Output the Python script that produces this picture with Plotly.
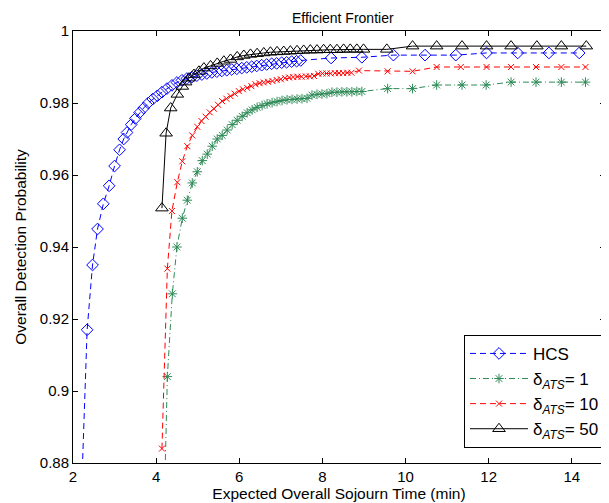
import plotly.graph_objects as go

# HCS
hcs_x = [2.20, 2.34, 2.47, 2.59, 2.73, 2.87, 3.00, 3.12, 3.22, 3.30, 3.40, 3.50, 3.60, 3.70,
         3.81, 3.92, 4.03, 4.14, 4.26, 4.38, 4.50, 4.62, 4.74, 4.86, 4.98, 5.10, 5.22, 5.34,
         5.46, 5.58, 5.70, 5.82, 5.94, 6.06, 6.18, 6.30, 6.42, 6.54, 6.66, 6.78, 6.90, 7.02,
         7.14, 7.26, 7.38, 7.48, 8.21, 8.95, 9.71, 10.47, 11.21, 11.95, 12.70, 13.45, 14.18]
hcs_y = [0.870, 0.917, 0.935, 0.945, 0.952, 0.957, 0.9625, 0.967, 0.970, 0.9718, 0.974, 0.9757,
         0.9773, 0.9786, 0.9800, 0.9811, 0.9820, 0.9830, 0.9840, 0.9849, 0.9857, 0.9863, 0.9868,
         0.9872, 0.9876, 0.9879, 0.9882, 0.9885, 0.9887, 0.9889, 0.9891, 0.9893, 0.9895, 0.9897,
         0.9899, 0.9901, 0.9903, 0.9905, 0.9907, 0.9909, 0.9910, 0.9912, 0.9913, 0.9915, 0.9916,
         0.9918, 0.9925, 0.9927, 0.9933, 0.9933, 0.9933, 0.9939, 0.9939, 0.9939, 0.9939]

# delta_ATS = 1
d1_x = [4.20, 4.27, 4.39, 4.50, 4.63, 4.75, 4.87, 4.99, 5.11, 5.23, 5.35, 5.47, 5.59, 5.71,
        5.83, 5.95, 6.07, 6.19, 6.31, 6.43, 6.55, 6.67, 6.79, 6.91, 7.03, 7.15, 7.27, 7.39,
        7.51, 7.63, 7.75, 7.87, 7.99, 8.11, 8.23, 8.35, 8.47, 8.59, 8.71, 8.83, 8.95,
        9.57, 10.17, 10.75, 11.36, 11.94, 12.54, 13.14, 13.75, 14.33]
d1_y = [0.870, 0.904, 0.927, 0.940, 0.948, 0.953, 0.9578, 0.9609, 0.964, 0.9658, 0.968, 0.970,
        0.971, 0.9725, 0.9740, 0.9752, 0.9763, 0.9773, 0.9781, 0.9788, 0.9793, 0.9798, 0.9801,
        0.9804, 0.9807, 0.9809, 0.9810, 0.9811, 0.9812, 0.9813, 0.9822, 0.9824, 0.9825, 0.9826,
        0.9830, 0.9830, 0.9831, 0.9831, 0.9831, 0.9832, 0.9832,
        0.9840, 0.9840, 0.9850, 0.9850, 0.9850, 0.9858, 0.9858, 0.9858, 0.9858]

# delta_ATS = 10
d10_x = [4.14, 4.27, 4.38, 4.51, 4.63, 4.75, 4.87, 4.99, 5.09, 5.19, 5.29, 5.39, 5.49, 5.59,
         5.69, 5.79, 5.89, 5.99, 6.09, 6.19, 6.29, 6.39, 6.49, 6.59, 6.69, 6.80, 6.90, 7.00,
         7.10, 7.20, 7.30, 7.40, 7.50, 7.60, 7.70, 7.80, 7.90, 8.00, 8.10, 8.20, 8.30, 8.40,
         8.50, 8.60, 8.70, 8.88, 9.57, 10.17, 10.75, 11.33, 11.95, 12.54, 13.14, 13.75, 14.33]
d10_y = [0.884, 0.934, 0.950, 0.958, 0.9638, 0.968, 0.971, 0.9734, 0.9750, 0.9762, 0.9774,
         0.9784, 0.9795, 0.9805, 0.9812, 0.9819, 0.9826, 0.9833, 0.9838, 0.9842, 0.9847, 0.9852,
         0.9855, 0.9857, 0.9859, 0.9861, 0.9864, 0.9866, 0.9869, 0.9871, 0.9872, 0.9873, 0.9873,
         0.9874, 0.9874, 0.9875, 0.9881, 0.9882, 0.9882, 0.9882, 0.9883, 0.9883, 0.9883, 0.9884,
         0.9884, 0.9890, 0.9888, 0.9888, 0.9900, 0.9900, 0.9900, 0.9900, 0.9900, 0.9900, 0.9900]

# delta_ATS = 50
d50_x = [4.14, 4.24, 4.35, 4.51, 4.63, 4.71, 4.79, 4.91, 5.03, 5.15, 5.31, 5.47, 5.63, 5.79,
         5.95, 6.11, 6.27, 6.43, 6.59, 6.75, 6.91, 7.07, 7.23, 7.39, 7.55, 7.71, 7.87, 8.03,
         8.19, 8.35, 8.51, 8.67, 8.83, 8.99, 9.55, 10.17, 10.75, 11.36, 11.95, 12.54, 13.16,
         13.75, 14.35]
d50_y = [0.9508, 0.9716, 0.9786, 0.9824, 0.9846, 0.9858, 0.9869, 0.9879, 0.9888, 0.9897, 0.9903,
         0.9910, 0.9916, 0.9921, 0.9928, 0.9932, 0.9935, 0.9937, 0.9939, 0.9941, 0.9942, 0.9943,
         0.9944, 0.9945, 0.9946, 0.9947, 0.9947, 0.9948, 0.9948, 0.9948, 0.9949, 0.9949, 0.9949,
         0.9949, 0.9949, 0.9958, 0.9958, 0.9958, 0.9958, 0.9958, 0.9958, 0.9958, 0.9958]

ytick_vals = [0.88, 0.90, 0.92, 0.94, 0.96, 0.98, 1.0]
ytick_text = ['0.88', '0.9', '0.92', '0.94', '0.96', '0.98', '1']
xtick_vals = [2, 4, 6, 8, 10, 12, 14]

green = '#2E8B57'

fig = go.Figure()
fig.add_trace(go.Scatter(x=hcs_x, y=hcs_y, mode='lines+markers', name='HCS',
                         line=dict(color='blue', width=1, dash='6px,4px'),
                         marker=dict(symbol='diamond-open', size=9, color='blue',
                                     line=dict(width=1, color='blue'))))
fig.add_trace(go.Scatter(x=d1_x, y=d1_y, mode='lines+markers',
                         name='δ<sub><i>ATS</i></sub>= 1',
                         line=dict(color=green, width=1, dash='6px,3px,1px,3px'),
                         marker=dict(symbol='asterisk-open', size=8, color=green,
                                     line=dict(width=1, color=green))))
fig.add_trace(go.Scatter(x=d10_x, y=d10_y, mode='lines+markers',
                         name='δ<sub><i>ATS</i></sub>= 10',
                         line=dict(color='red', width=1, dash='6px,4px'),
                         marker=dict(symbol='x-thin-open', size=6, color='red',
                                     line=dict(width=1, color='red'))))
fig.add_trace(go.Scatter(x=d50_x, y=d50_y, mode='lines+markers',
                         name='δ<sub><i>ATS</i></sub>= 50',
                         line=dict(color='black', width=1),
                         marker=dict(symbol='triangle-up-open', size=11, color='black',
                                     line=dict(width=1, color='black'))))

axis_common = dict(showline=True, linecolor='black', linewidth=1, mirror='ticks',
                   ticks='inside', ticklen=5, tickcolor='black', showgrid=False,
                   zeroline=False, tickfont=dict(size=15, color='black'))

# the page body has an 8px margin, so the figure is a bit smaller than the window
fig.update_layout(
    width=601, height=495,
    margin=dict(l=65, r=4, t=23, b=40),
    paper_bgcolor='white', plot_bgcolor='white',
    font=dict(family='Liberation Sans, Arial, sans-serif', size=15, color='black'),
    title=dict(text='Efficient Frontier', x=0.557, xanchor='center', y=0.99,
               yanchor='top', font=dict(size=14)),
    xaxis=dict(range=[2, 14.8], tickvals=xtick_vals,
               title=dict(text='Expected Overall Sojourn Time (min)', standoff=3,
                          font=dict(size=15.5)),
               **axis_common),
    yaxis=dict(range=[0.88, 1.0], tickvals=ytick_vals, ticktext=ytick_text,
               title=dict(text='Overall Detection Probability', standoff=9,
                          font=dict(size=15.5)),
               **axis_common),
    legend=dict(x=1, y=0.035, xanchor='right', yanchor='bottom',
                bgcolor='white', bordercolor='black', borderwidth=1,
                font=dict(size=17), itemwidth=58, tracegroupgap=0),
    showlegend=True,
)

fig.write_html("out.html")
